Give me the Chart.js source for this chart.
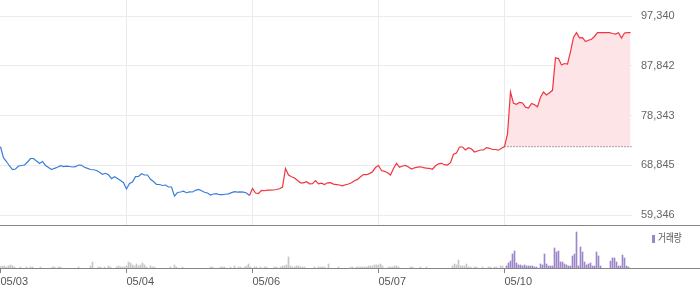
<!DOCTYPE html>
<html><head><meta charset="utf-8">
<script src="https://cdn.jsdelivr.net/npm/chart.js@4"></script>
<style>
html,body{margin:0;padding:0;background:#fff;}
#wrap{position:relative;width:700px;height:289px;overflow:hidden;}
#price{position:absolute;left:0;top:0;}
#vol{position:absolute;left:0;top:226px;}
#legend{position:absolute;left:652px;top:231px;font-family:"Noto Sans CJK KR";font-size:11px;color:#555;line-height:12px;white-space:nowrap;}
#legend i{display:inline-block;width:3px;height:8px;background:#9a86c8;margin-right:3px;vertical-align:-1px;}
#legend span{display:inline-block;transform:scaleX(0.78);transform-origin:0 50%;}
</style></head><body>
<div id="wrap">
<canvas id="price" width="700" height="226"></canvas>
<canvas id="vol" width="700" height="63"></canvas>
<div id="legend"><i></i><span>거래량</span></div>
</div>
<script>
// ---- data ----
const dayLabels = ['05/03','05/04','05/06','05/07','05/10'];
const yTicks = [59346, 68845, 78343, 87842, 97340];
const prevClose = 72390;

const price0503 = [72390,70230,69560,68700,68030,68130,68700,68800,68890,69470,70130,70130,69660,69180,69560,68800,68410,68030,68260,68470,68760,68590,68660,68610,68510,68570,68890,68830,68450,68240,68030,67990,67840,67520,67130,67310,67020,66280,66660,66310,65930,65510];
const price0504 = [64310,65360,65650,66660,66700,67210,66980,66980,66160,65740,65170,65170,64980,65070,64690,64690,62970,63640,63740,63890,63600,63770,63740,64060,64230,63980,63680,63540,63160,63350,63430,63220,63240,63310,63390,63620,63790,63720,63770,63700,63560,63070];
const price0506 = [64400,63540,63450,64060,63980,64100,64080,64120,64210,64350,64690,68220,66980,66660,66410,65930,65490,65470,65700,65300,65340,65930,65300,65420,65170,65490,65510,65240,65150,65070,64900,65130,65260,65510,65890,66140,66660,67080,67040,67250,67610,68410];
const price0507 = [68800,67840,67690,67400,66980,68220,69220,68450,68700,68800,68510,68130,68360,68470,68550,68400,68280,68260,68090,68740,69120,69220,68950,68890,69330,70950,71180,72330,72330,71760,72200,71950,71380,71570,71760,71760,72220,72080,71850,71850,71720,72080];
const price0510 = [72400,74810,82830,80670,80480,80860,80730,79930,79780,80630,80390,80000,81820,82830,82260,82700,83150,89380,89210,87990,88270,88160,90520,93240,94150,93180,93220,92470,92700,92890,93430,94150,94150,94150,94150,94150,94000,93900,94150,93140,94090,94150,94150];

// volume (thousand shares)
const vol0503 = [1.5,2,2,1,2,3,2,1,0,0, 1,0,0,1,0,1,1,0,0,0, 1,0,0,0,0,0,1,1,0,1, 1,0,0,0,0,0,0,0,0,1, 0,0,0,0,0,2,6,0,0,1, 1,0,1,0,2,1,0,0,1,2, 1,1,1];
const vol0504 = [2,6,5,3,2,4,2,3,5,3, 1,0,2,1,1,0,0,0,0,0, 0,0,1,0,3,1,0,0,1,0, 0,0,0,0,0,0,0,0,0,0, 0,0,1,1,0,0,0,1,1,1, 0,0,1,0,2,0,1,1,0,1, 2,4,1];
const vol0506 = [0,1,1,0,1,0,1,1,0,0, 0,1,1,0,1,2,2,3,11,2, 1,1,2,2,1,1,1,0,0,0, 0,1,0,1,1,1,1,0,4,0, 0,0,0,1,0,0,0,0,0,1, 1,0,1,1,1,1,1,1,2,2, 2,3,3];
const vol0507 = [3,4,2,0,0,1,1,1,2,2, 1,0,0,0,0,0,1,1,0,0, 0,1,0,0,1,0,0,0,0,0, 0,0,0,0,0,0,0,2,4,3, 8,2,2,2,4,1,1,0,1,1, 0,0,1,0,0,1,1,0,1,1, 0,2,2];
const vol0510 = [0,2,5,7,14,17,5,3,3,2, 3,2,2,2,2,1,1,0,4,3, 14,4,2,2,2,20,16,17,6,6, 4,3,2,2,12,14,36,2,21,16, 6,3,4,5,2,2,16,12,2,0, 0,0,0,7,10,10,6,2,2,13, 10,2,1];

// ---- build series (x in minutes-like units: one trading day = 126 units) ----
const DAY = 126, PSTEP = 3, VSTEP = 2;
const pts = (arr, d, step) => arr.map((v, i) => ({x: d * DAY + i * step, y: v}));
const blue = pts(price0503, 0, PSTEP).concat(pts(price0504, 1, PSTEP));
const red1 = [blue[blue.length - 1]].concat(pts(price0506, 2, PSTEP), pts(price0507, 3, PSTEP), pts(price0510, 4, PSTEP).slice(0, 1));
const red2 = pts(price0510, 4, PSTEP);
const lastX = red2[red2.length - 1].x + 1;
const baseLine = [{x: 4 * DAY, y: prevClose}, {x: lastX, y: prevClose}];
const grayVol = [].concat(pts(vol0503, 0, VSTEP), pts(vol0504, 1, VSTEP), pts(vol0506, 2, VSTEP), pts(vol0507, 3, VSTEP)).filter(p => p.y > 0);
const purpleVol = pts(vol0510, 4, VSTEP).filter(p => p.y > 0);

const RED = '#f2343f', BLUE = '#3b7ddd', GRID = '#ebebeb', AXIS = '#858585';
const dayTicks = s => { s.ticks = dayLabels.map((l, i) => ({value: i * DAY})); };

const fullLine = {
  id: 'fullLine',
  afterDraw(c) {
    const ctx = c.ctx, y = Math.round(c.chartArea.bottom) + 0.5;
    ctx.save(); ctx.strokeStyle = AXIS; ctx.lineWidth = 1;
    ctx.beginPath(); ctx.moveTo(0, y); ctx.lineTo(c.width, y); ctx.stroke(); ctx.restore();
  }
};

const lineDs = (data, color, extra) => Object.assign({data, borderColor: color, borderWidth: 1.2, pointRadius: 0, tension: 0, fill: false}, extra || {});

new Chart(document.getElementById('price'), {
  type: 'line',
  data: {datasets: [
    lineDs(red2, RED, {fill: {value: prevClose}, backgroundColor: '#fde4e7'}),
    lineDs(red1, RED),
    lineDs(blue, BLUE),
    lineDs(baseLine, '#555', {borderWidth: 1, borderDash: [1, 2]})
  ]},
  options: {
    responsive: false, animation: false, events: [],
    layout: {padding: 0},
    plugins: {legend: {display: false}, tooltip: {enabled: false}, filler: {drawTime: 'beforeDatasetsDraw'}},
    scales: {
      x: {
        type: 'linear', min: -0.5, max: 631.5,
        afterBuildTicks: dayTicks,
        afterFit: s => { s.height = 1; s.paddingLeft = 0; s.paddingRight = 0; },
        ticks: {display: false},
        grid: {color: ctx => (ctx.tick && ctx.tick.value === 0) ? 'rgba(0,0,0,0)' : GRID, drawTicks: false},
        border: {display: false}
      },
      y: {
        position: 'right', min: 57437, max: 100395,
        afterBuildTicks: s => { s.ticks = yTicks.map(v => ({value: v})); },
        afterFit: s => { s.width = 68; s.paddingTop = 0; s.paddingBottom = 0; },
        ticks: {padding: 9, color: '#666', font: {family: 'Liberation Sans', size: 11}, callback: v => v.toLocaleString('en-US')},
        grid: {color: GRID, drawTicks: false},
        border: {display: false}
      }
    }
  },
  plugins: [fullLine]
});

new Chart(document.getElementById('vol'), {
  type: 'bar',
  data: {datasets: [
    {data: grayVol, backgroundColor: '#c6c6c9', barThickness: 1, grouped: false, borderWidth: 0},
    {data: purpleVol, backgroundColor: '#9a86c8', barThickness: 1, grouped: false, borderWidth: 0}
  ]},
  options: {
    responsive: false, animation: false, events: [],
    layout: {padding: 0},
    plugins: {legend: {display: false}, tooltip: {enabled: false}},
    scales: {
      x: {
        type: 'linear', min: -0.5, max: 699.5, offset: false,
        afterBuildTicks: dayTicks,
        afterFit: s => { s.height = 21; s.paddingLeft = 0; s.paddingRight = 0; },
        ticks: {align: 'start', padding: 2, color: '#555', maxRotation: 0, autoSkip: false,
                font: {family: 'Liberation Sans', size: 11}, callback: (v, i) => dayLabels[i]},
        grid: {offset: false, drawOnChartArea: false, drawTicks: true, tickLength: 5, color: AXIS},
        border: {display: true, color: AXIS}
      },
      y: {display: false, min: 0, max: 42}
    }
  }
});
</script>
</body></html>
